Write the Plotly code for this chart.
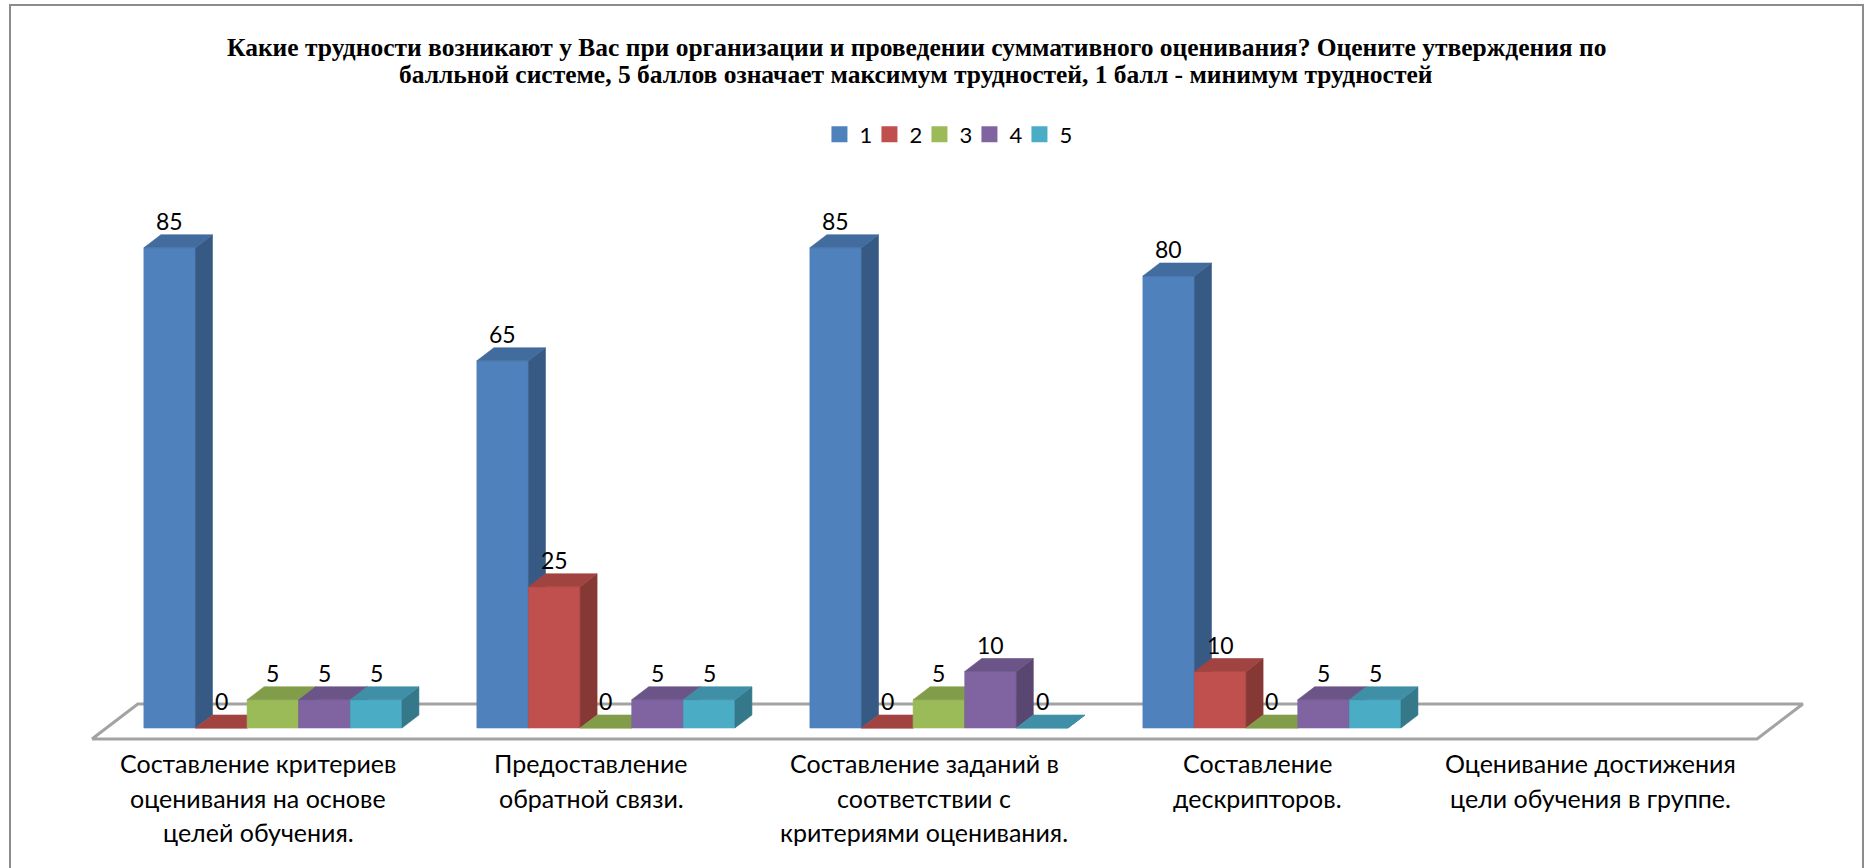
import plotly.graph_objects as go

# ---------------- data ----------------
category_lines = [
    ["Составление критериев", "оценивания на основе", "целей обучения."],
    ["Предоставление", "обратной связи."],
    ["Составление заданий в", "соответствии с", "критериями оценивания."],
    ["Составление", "дескрипторов."],
    ["Оценивание достижения", "цели обучения в группе."],
]
series_names = ["1", "2", "3", "4", "5"]
score_1 = [85, 65, 85, 80, None]
score_2 = [0, 25, 0, 10, None]
score_3 = [5, 0, 5, 0, None]
score_4 = [5, 5, 10, 5, None]
score_5 = [5, 5, 0, 5, None]
series_values = [score_1, score_2, score_3, score_4, score_5]
series_colors = ["#4F81BD", "#C0504D", "#9BBB59", "#8064A2", "#4BACC6"]

title_lines = [
    "Какие трудности возникают у Вас при организации и проведении суммативного оценивания? "
    "Оцените утверждения по",
    "балльной системе, 5 баллов означает максимум трудностей, 1 балл - минимум трудностей",
]

# ---------------- 3D column geometry (axis units) ----------------
BAR_W = 0.155          # column width, in category units
DEPTH_X = 0.051        # horizontal shift of a column's back face
DEPTH_Y = 2.30         # vertical shift of a column's back face (value units)
FLOOR_FRONT, FLOOR_BACK = -0.85, 1.85   # floor edges, in column depths
X_RANGE = [-0.8195, 4.793]
Y_RANGE = [-24.78, 128.85]

TEXT_FONT = "Lato, 'Open Sans', sans-serif"
n_cat = len(category_lines)
n_ser = len(series_values)


def shade(hex_color, f):
    h = hex_color.lstrip("#")
    r, g, b = (int(h[k:k + 2], 16) for k in (0, 2, 4))
    return "rgb({},{},{})".format(int(r * f), int(g * f), int(b * f))


fig = go.Figure()

# floor outline
fl = [-0.5 + FLOOR_FRONT * DEPTH_X, n_cat - 0.5 + FLOOR_FRONT * DEPTH_X,
      n_cat - 0.5 + FLOOR_BACK * DEPTH_X, -0.5 + FLOOR_BACK * DEPTH_X]
fy = [FLOOR_FRONT * DEPTH_Y, FLOOR_FRONT * DEPTH_Y, FLOOR_BACK * DEPTH_Y, FLOOR_BACK * DEPTH_Y]
fig.add_trace(go.Scatter(
    x=fl + [fl[0]], y=fy + [fy[0]], mode="lines",
    line=dict(color="#A3A3A3", width=3), hoverinfo="skip", showlegend=False,
))

annotations = []

# columns: painted series by series, left to right, so nearer faces cover farther ones
for j, (name, vals, color) in enumerate(zip(series_names, series_values, series_colors)):
    faces = {"front": ([], [], color),
             "side": ([], [], shade(color, 0.70)),
             "top": ([], [], shade(color, 0.84))}
    for i, v in enumerate(vals):
        if v is None:
            continue
        x0 = i - n_ser * BAR_W / 2 + j * BAR_W
        x1 = x0 + BAR_W
        fx, fyy, _ = faces["front"]
        fx += [x0, x1, x1, x0, x0, None]
        fyy += [0, 0, v, v, 0, None]
        sx, sy, _ = faces["side"]
        sx += [x1, x1 + DEPTH_X, x1 + DEPTH_X, x1, x1, None]
        sy += [0, DEPTH_Y, v + DEPTH_Y, v, 0, None]
        tx, ty, _ = faces["top"]
        tx += [x0, x1, x1 + DEPTH_X, x0 + DEPTH_X, x0, None]
        ty += [v, v, v + DEPTH_Y, v + DEPTH_Y, v, None]
        annotations.append(dict(
            x=(x0 + x1) / 2, y=v, xref="x", yref="y", text=str(v), showarrow=False,
            yanchor="middle", yshift=27, font=dict(family=TEXT_FONT, size=23, color="#000000"),
        ))
    for face in ("front", "side", "top"):
        xs, ys, c = faces[face]
        fig.add_trace(go.Scatter(
            x=xs, y=ys, mode="lines", fill="toself", fillcolor=c,
            line=dict(color=c, width=0.6), hoverinfo="skip", showlegend=False,
        ))
    # legend swatch
    fig.add_trace(go.Scatter(
        x=[None], y=[None], mode="markers", name=name,
        marker=dict(symbol="square", size=16, color=color),
    ))

# empty trailing legend slot so the last entry's text has room
fig.add_trace(go.Scatter(
    x=[None], y=[None], mode="markers", name=" ",
    marker=dict(symbol="square", size=1, color="rgba(0,0,0,0)",
                line=dict(width=0, color="rgba(0,0,0,0)")),
    hoverinfo="skip",
))

# category labels under the floor's front edge
for i, lines in enumerate(category_lines):
    for k, line in enumerate(lines):
        annotations.append(dict(
            x=i + FLOOR_FRONT * DEPTH_X, y=FLOOR_FRONT * DEPTH_Y, xref="x", yref="y",
            text=line, showarrow=False, yanchor="middle", yshift=-(24 + 34.5 * k),
            font=dict(family=TEXT_FONT, size=25, color="#000000"),
        ))

# chart title, two bold lines
TITLE_FONT = "'Liberation Serif', 'Times New Roman', serif"
for k, line in enumerate(title_lines):
    annotations.append(dict(
        x=916 / 1869, y=1 - (47 + 28 * k) / 868, xref="paper", yref="paper",
        text="<b>" + line + "</b>", showarrow=False, xanchor="center", yanchor="middle",
        font=dict(family=TITLE_FONT, size=25.5, color="#000000"),
    ))

fig.update_layout(
    width=1869, height=868,
    margin=dict(l=0, r=0, t=0, b=0),
    paper_bgcolor="#FFFFFF", plot_bgcolor="#FFFFFF",
    legend=dict(
        orientation="h", x=0.5187, xanchor="center", y=1 - 134.5 / 868, yanchor="middle",
        font=dict(family=TEXT_FONT, size=22, color="#000000"),
        entrywidth=5, bgcolor="rgba(0,0,0,0)",
    ),
    xaxis=dict(range=X_RANGE, visible=False, fixedrange=True),
    yaxis=dict(range=Y_RANGE, visible=False, fixedrange=True),
    annotations=annotations,
    shapes=[dict(type="rect", xref="paper", yref="paper", x0=10 / 1869, x1=1863 / 1869,
                 y0=-0.01, y1=1 - 5 / 868, line=dict(color="#8C8C8C", width=2))],
    showlegend=True,
)

fig.write_html("out.html")
